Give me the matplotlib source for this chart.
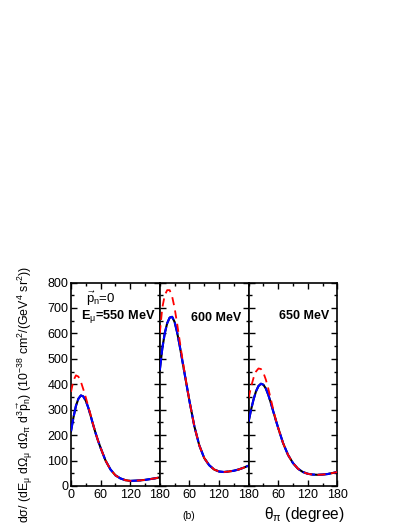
import numpy as np
import matplotlib
matplotlib.use("Agg")
import matplotlib.pyplot as plt
from matplotlib.ticker import MultipleLocator

plt.rcParams['font.family'] = 'Liberation Sans'
plt.rcParams['mathtext.fontset'] = 'custom'
plt.rcParams['mathtext.rm'] = 'Liberation Sans'
plt.rcParams['mathtext.it'] = 'Liberation Sans'
plt.rcParams['mathtext.bf'] = 'Liberation Sans:bold'

# angles (degree)
theta = [0, 5, 10, 15, 20, 25, 30, 35, 40, 45, 50, 55, 60, 70, 80, 90,
         100, 110, 120, 130, 140, 150, 160, 170, 180]

# E_mu = 550 MeV
black_550 = [215, 270, 315, 343, 356, 352, 335, 308, 275, 240, 207, 177, 150, 100, 65, 42,
             30, 23, 20, 21, 22, 24, 27, 30, 34]
red_550 = [370, 415, 435, 430, 410, 380, 348, 313, 278, 241, 207, 177, 150, 100, 65, 42,
           30, 23, 20, 21, 22, 24, 27, 30, 34]

# E_mu = 600 MeV
black_600 = [455, 540, 600, 640, 662, 665, 645, 605, 555, 500, 445, 390, 335, 235, 160, 110,
             82, 65, 57, 55, 57, 60, 65, 72, 80]
red_600 = [600, 700, 750, 770, 770, 745, 700, 640, 575, 510, 450, 391, 335, 235, 160, 110,
           82, 65, 57, 55, 57, 60, 65, 72, 80]

# E_mu = 650 MeV
black_650 = [253, 300, 340, 372, 393, 402, 398, 383, 358, 327, 293, 260, 228, 168, 122, 90,
             68, 55, 48, 45, 44, 45, 47, 51, 55]
red_650 = [345, 390, 425, 450, 462, 460, 445, 418, 382, 342, 300, 261, 228, 168, 122, 90,
           68, 55, 48, 45, 44, 45, 47, 51, 55]

blacks = [black_550, black_600, black_650]
blues = [list(black_550), list(black_600), list(black_650)]
reds = [red_550, red_600, red_650]

fig = plt.figure(figsize=(4.07, 5.27), dpi=100)

left = 71 / 407
width = 88.8 / 407
bottom = 41 / 527
height = 203.5 / 527

axes = []
for i in range(3):
    ax = fig.add_axes([left + i * width, bottom, width, height])
    axes.append(ax)
    ax.plot(theta, blacks[i], color='black', lw=1.5, zorder=2)
    ax.plot(theta, blues[i], color='blue', lw=1.5, ls=(0, (6, 1.5)), zorder=3)
    ax.plot(theta, reds[i], color='red', lw=1.3, ls=(0, (4.5, 3)), zorder=4)
    ax.set_xlim(0, 180)
    ax.set_ylim(0, 800)
    ax.xaxis.set_major_locator(MultipleLocator(60))
    ax.xaxis.set_minor_locator(MultipleLocator(30))
    ax.yaxis.set_major_locator(MultipleLocator(100))
    ax.yaxis.set_minor_locator(MultipleLocator(50))
    ax.tick_params(which='both', direction='in', top=True, right=True,
                   labelsize=9, width=1.0, pad=2)
    ax.tick_params(which='major', length=4)
    ax.tick_params(which='minor', length=2.5)
    for sp in ax.spines.values():
        sp.set_linewidth(1.2)
    if i > 0:
        ax.tick_params(axis='y', which='both', labelleft=False, left=True)
        ax.set_xticks([60, 120, 180])

axes[0].text(30, 735, r'$\vec{\mathrm{p}}_{\mathrm{n}}$=0', fontsize=9.5, va='center')
axes[0].text(20, 668, r'E$_{\mu}$=550 MeV', fontsize=9.2, fontweight='bold', va='center')
axes[1].text(63, 662, '600 MeV', fontsize=9, fontweight='bold', va='center')
axes[2].text(61, 668, '650 MeV', fontsize=9, fontweight='bold', va='center')

fig.text(189 / 407, 1 - 516 / 527, '(b)', fontsize=7.5, ha='center', va='center')
fig.text(304 / 407, 1 - 514 / 527, r'$\theta_{\pi}$ (degree)', fontsize=11.2,
         ha='center', va='center')

fig.text(25 / 407, 1 - 395 / 527,
         r'd$\sigma$/ (dE$_{\mu}$ d$\Omega_{\mu}$ d$\Omega_{\pi}$ d$^3\vec{\mathrm{p}}_{\mathrm{n}}$) '
         r'(10$^{-38}$ cm$^2$/(GeV$^4$ sr$^2$))',
         rotation=90, fontsize=8.9, ha='center', va='center')

fig.savefig('out.png', dpi=100)
